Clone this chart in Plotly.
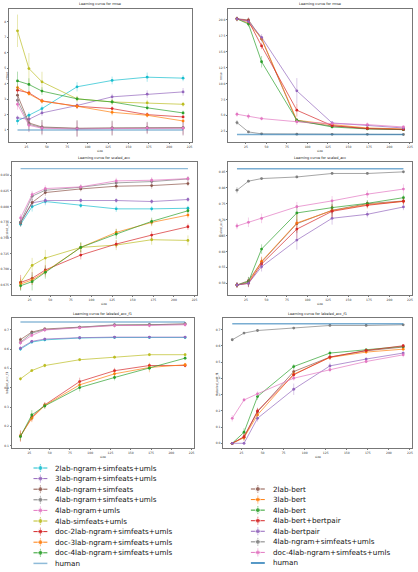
import plotly.graph_objects as go

# ---------------- data ----------------
X = [14, 28, 44, 87, 130, 173, 217]
XTICKS = [25, 50, 75, 100, 125, 150, 175, 200, 225]

LEFT_MODELS = ["2lab-ngram+simfeats+umls", "3lab-ngram+simfeats+umls", "4lab-ngram+simfeats",
               "4lab-ngram+simfeats+umls", "4lab-ngram+umls", "4lab-simfeats+umls",
               "doc-2lab-ngram+simfeats+umls", "doc-3lab-ngram+simfeats+umls",
               "doc-4lab-ngram+simfeats+umls"]
LEFT_COLORS = ["#17becf", "#9467bd", "#8c564b", "#7f7f7f", "#e377c2", "#bcbd22",
               "#d62728", "#ff7f0e", "#2ca02c"]
RIGHT_MODELS = ["2lab-bert", "3lab-bert", "4lab-bert", "4lab-bert+bertpair", "4lab-bertpair",
                "4lab-ngram+simfeats+umls", "doc-4lab-ngram+simfeats+umls"]
RIGHT_COLORS = ["#8c564b", "#ff7f0e", "#2ca02c", "#d62728", "#9467bd", "#7f7f7f", "#e377c2"]

TITLES = ["Learning curve for rmse", "Learning curve for rmse",
          "Learning curve for scaled_acc", "Learning curve for scaled_acc",
          "Learning curve for labeled_acc_f1", "Learning curve for labeled_acc_f1"]
YLABELS = ["rmse", "rmse", "scaled_acc", "scaled_acc", "labeled_acc_f1", "labeled_acc_f1"]
XLABEL = "size"

# top-left (left models)
TL_MEAN = [
    [1.58, 1.95, 2.38, 3.79, 4.20, 4.41, 4.35],
    [1.78, 1.69, 2.10, 2.58, 3.14, 3.31, 3.46],
    [3.25, 1.45, 1.19, 1.11, 1.13, 1.15, 1.15],
    [2.92, 1.37, 1.15, 1.09, 1.11, 1.13, 1.13],
    [2.66, 1.30, 1.11, 1.06, 1.09, 1.11, 1.11],
    [7.41, 4.97, 4.11, 3.01, 2.81, 2.75, 2.66],
    [3.57, 3.40, 2.88, 2.53, 2.38, 1.99, 1.84],
    [3.74, 3.35, 2.86, 2.53, 2.14, 1.95, 1.58],
    [4.17, 3.94, 3.51, 3.01, 2.81, 2.43, 2.10],
]
TL_ERR = [
    [0.25, 0.20, 0.20, 0.30, 0.25, 0.30, 0.20],
    [0.15, 0.15, 0.20, 0.20, 0.20, 0.25, 0.25],
    [0.35, 0.45, 0.45, 0.50, 0.45, 0.35, 0.45],
    [0.40, 0.50, 0.50, 0.55, 0.50, 0.40, 0.50],
    [0.35, 0.45, 0.40, 0.50, 0.40, 0.35, 0.45],
    [1.05, 1.00, 0.65, 0.20, 0.20, 0.20, 0.15],
    [0.20, 0.15, 0.15, 0.15, 0.15, 0.15, 0.10],
    [0.20, 0.15, 0.15, 0.15, 0.20, 0.15, 0.10],
    [0.60, 0.40, 0.25, 0.15, 0.15, 0.15, 0.15],
]
TL_HUMAN = 1.0

# top-right (right models)
TR_MEAN = [
    [20.15, 19.99, 17.00, 4.08, 3.34, 2.92, 2.76],
    [20.15, 19.50, 17.10, 4.24, 3.55, 3.02, 2.87],
    [20.15, 19.34, 13.42, 4.24, 3.18, 2.87, 2.76],
    [20.15, 19.84, 15.90, 5.81, 3.39, 2.92, 2.81],
    [20.15, 19.73, 17.26, 8.85, 3.81, 3.44, 3.02],
    [3.87, 2.40, 2.10, 2.05, 2.03, 2.02, 2.00],
    [5.18, 4.86, 4.50, 4.00, 3.71, 3.55, 3.18],
]
TR_ERR = [
    [0.40, 0.40, 0.40, 0.30, 0.20, 0.20, 0.20],
    [0.30, 0.40, 0.40, 0.30, 0.20, 0.20, 0.20],
    [0.30, 0.40, 0.90, 0.30, 0.20, 0.20, 0.20],
    [0.30, 0.40, 0.50, 1.00, 0.20, 0.20, 0.20],
    [0.30, 0.30, 0.50, 2.00, 0.30, 0.20, 0.20],
    [0.40, 0.10, 0.10, 0.10, 0.10, 0.10, 0.10],
    [0.40, 0.45, 0.30, 0.50, 0.20, 0.35, 0.20],
]
TR_HUMAN = 2.0

# middle-left
ML_MEAN = [
    [0.7717, 0.8000, 0.8080, 0.8016, 0.7963, 0.7963, 0.7973],
    [0.7750, 0.8059, 0.8096, 0.8096, 0.8096, 0.8080, 0.8112],
    [0.7739, 0.8064, 0.8223, 0.8281, 0.8324, 0.8334, 0.8366],
    [0.7750, 0.8165, 0.8260, 0.8308, 0.8377, 0.8398, 0.8440],
    [0.7819, 0.8191, 0.8287, 0.8313, 0.8409, 0.8419, 0.8445],
    [0.6790, 0.7062, 0.7179, 0.7349, 0.7386, 0.7471, 0.7460],
    [0.6790, 0.6856, 0.6989, 0.7227, 0.7402, 0.7545, 0.7678],
    [0.6765, 0.6830, 0.6962, 0.7349, 0.7588, 0.7747, 0.7864],
    [0.6737, 0.6803, 0.6951, 0.7349, 0.7561, 0.7763, 0.7933],
]
ML_ERR = [
    [0.004, 0.008, 0.006, 0.004, 0.005, 0.004, 0.004],
    [0.004, 0.006, 0.005, 0.004, 0.004, 0.004, 0.004],
    [0.006, 0.006, 0.005, 0.004, 0.005, 0.005, 0.004],
    [0.006, 0.006, 0.005, 0.004, 0.005, 0.005, 0.004],
    [0.006, 0.006, 0.005, 0.004, 0.005, 0.005, 0.004],
    [0.008, 0.012, 0.013, 0.008, 0.008, 0.008, 0.008],
    [0.012, 0.010, 0.008, 0.007, 0.006, 0.006, 0.005],
    [0.008, 0.008, 0.008, 0.007, 0.006, 0.006, 0.005],
    [0.008, 0.014, 0.010, 0.008, 0.008, 0.006, 0.005],
]
ML_HUMAN = 0.8605

# middle-right
MR_MEAN = [
    [0.4948, 0.5082, 0.5669, 0.6875, 0.7293, 0.7502, 0.7585],
    [0.4948, 0.5021, 0.5690, 0.6896, 0.7283, 0.7471, 0.7575],
    [0.4948, 0.5052, 0.6076, 0.7210, 0.7377, 0.7512, 0.7690],
    [0.4948, 0.5000, 0.5606, 0.6703, 0.7262, 0.7450, 0.7575],
    [0.4948, 0.5000, 0.5522, 0.6358, 0.7043, 0.7168, 0.7398],
    [0.7925, 0.8208, 0.8290, 0.8340, 0.8450, 0.8450, 0.8500],
    [0.6800, 0.6917, 0.7039, 0.7405, 0.7590, 0.7800, 0.7960],
]
MR_ERR = [
    [0.008, 0.012, 0.015, 0.030, 0.020, 0.010, 0.010],
    [0.008, 0.012, 0.015, 0.030, 0.020, 0.010, 0.010],
    [0.008, 0.015, 0.015, 0.025, 0.020, 0.010, 0.010],
    [0.008, 0.012, 0.015, 0.030, 0.020, 0.010, 0.010],
    [0.008, 0.012, 0.015, 0.030, 0.020, 0.010, 0.010],
    [0.010, 0.004, 0.004, 0.004, 0.004, 0.004, 0.004],
    [0.010, 0.015, 0.015, 0.015, 0.015, 0.012, 0.015],
]
MR_HUMAN = 0.860

# bottom-left
BL_MEAN = [
    [0.6000, 0.6363, 0.6478, 0.6574, 0.6600, 0.6600, 0.6600],
    [0.6050, 0.6400, 0.6520, 0.6590, 0.6620, 0.6620, 0.6620],
    [0.6490, 0.6880, 0.7040, 0.7140, 0.7230, 0.7260, 0.7300],
    [0.6350, 0.6830, 0.7000, 0.7120, 0.7260, 0.7260, 0.7300],
    [0.6320, 0.6710, 0.6990, 0.7100, 0.7220, 0.7220, 0.7260],
    [0.4460, 0.4890, 0.5150, 0.5450, 0.5580, 0.5710, 0.5710],
    [0.1500, 0.2470, 0.3110, 0.4320, 0.4880, 0.5150, 0.5150],
    [0.1500, 0.2420, 0.3080, 0.4150, 0.4720, 0.5050, 0.5190],
    [0.1470, 0.2590, 0.3060, 0.4010, 0.4530, 0.5010, 0.5530],
]
BL_ERR = [
    [0.010, 0.008, 0.008, 0.006, 0.006, 0.006, 0.006],
    [0.010, 0.008, 0.008, 0.006, 0.006, 0.006, 0.006],
    [0.012, 0.010, 0.008, 0.008, 0.010, 0.010, 0.010],
    [0.012, 0.010, 0.008, 0.008, 0.010, 0.010, 0.010],
    [0.012, 0.010, 0.008, 0.008, 0.010, 0.010, 0.010],
    [0.010, 0.008, 0.010, 0.008, 0.008, 0.008, 0.008],
    [0.030, 0.020, 0.015, 0.020, 0.015, 0.010, 0.010],
    [0.025, 0.020, 0.015, 0.020, 0.015, 0.025, 0.010],
    [0.020, 0.025, 0.015, 0.020, 0.015, 0.010, 0.010],
]
BL_HUMAN = 0.740

# bottom-right
BR_MEAN = [
    [0.000, 0.037, 0.195, 0.442, 0.531, 0.570, 0.593],
    [0.000, 0.035, 0.175, 0.426, 0.529, 0.562, 0.580],
    [0.000, 0.068, 0.288, 0.473, 0.556, 0.576, 0.597],
    [0.000, 0.041, 0.199, 0.422, 0.531, 0.572, 0.601],
    [0.000, 0.000, 0.154, 0.333, 0.477, 0.519, 0.556],
    [0.638, 0.679, 0.695, 0.710, 0.726, 0.726, 0.730],
    [0.154, 0.267, 0.305, 0.401, 0.453, 0.504, 0.545],
]
BR_ERR = [
    [0.005, 0.020, 0.020, 0.020, 0.015, 0.010, 0.010],
    [0.005, 0.020, 0.020, 0.020, 0.015, 0.010, 0.010],
    [0.005, 0.025, 0.020, 0.015, 0.015, 0.010, 0.010],
    [0.005, 0.020, 0.020, 0.020, 0.015, 0.010, 0.010],
    [0.005, 0.010, 0.020, 0.035, 0.020, 0.010, 0.010],
    [0.008, 0.006, 0.005, 0.005, 0.005, 0.005, 0.005],
    [0.020, 0.010, 0.015, 0.015, 0.015, 0.010, 0.015],
]
BR_HUMAN = 0.737

Y_TICKS = [
    [1, 2, 3, 4, 5, 6, 7, 8],
    [2.5, 5.0, 7.5, 10.0, 12.5, 15.0, 17.5, 20.0],
    [0.675, 0.700, 0.725, 0.750, 0.775, 0.800, 0.825, 0.850],
    [0.50, 0.55, 0.60, 0.65, 0.70, 0.75, 0.80, 0.85],
    [0.1, 0.2, 0.3, 0.4, 0.5, 0.6, 0.7],
    [0.0, 0.1, 0.2, 0.3, 0.4, 0.5, 0.6, 0.7],
]
Y_FORMATS = [".0f", ".1f", ".3f", ".2f", ".1f", ".1f"]
Y_RANGES = [[0.22, 8.82], [0.82, 21.7], [0.659, 0.871], [0.4634, 0.881], [0.088, 0.761], [-0.029, 0.772]]
X_RANGE = [3.5, 227.5]

# ---------------- layout geometry (pixels) ----------------
W, H = 418, 572
FRAMES = [  # left, right, top, bottom
    (7, 191, 9, 142), (228, 413, 9, 142),
    (10, 196, 162, 295), (228, 413, 162, 295),
    (10, 193, 318, 448), (223, 413, 318, 448),
]
YLABEL_X = [1.0, 216.0, 1.0, 216.0, 1.0, 213.0]
FONT = "DejaVu Sans"


def rgba(hexc, a):
    h = hexc.lstrip("#")
    return "rgba(%d,%d,%d,%.2f)" % (int(h[0:2], 16), int(h[2:4], 16), int(h[4:6], 16), a)


fig = go.Figure()

panels = [
    (TL_MEAN, TL_ERR, TL_HUMAN, LEFT_COLORS, LEFT_MODELS, rgba("#1f77b4", 0.5)),
    (TR_MEAN, TR_ERR, TR_HUMAN, RIGHT_COLORS, RIGHT_MODELS, rgba("#1f77b4", 0.6)),
    (ML_MEAN, ML_ERR, ML_HUMAN, LEFT_COLORS, LEFT_MODELS, rgba("#1f77b4", 0.5)),
    (MR_MEAN, MR_ERR, MR_HUMAN, RIGHT_COLORS, RIGHT_MODELS, rgba("#1f77b4", 0.6)),
    (BL_MEAN, BL_ERR, BL_HUMAN, LEFT_COLORS, LEFT_MODELS, rgba("#1f77b4", 0.5)),
    (BR_MEAN, BR_ERR, BR_HUMAN, RIGHT_COLORS, RIGHT_MODELS, rgba("#1f77b4", 0.6)),
]

annotations = []
for k, (means, errs, human, colors, names, hcol) in enumerate(panels):
    ax = "" if k == 0 else str(k + 1)
    for m, e, c, n in zip(means, errs, colors, names):
        fig.add_trace(go.Scatter(
            x=X, y=m, name=n, mode="lines+markers", showlegend=False,
            line=dict(color=c, width=0.7), marker=dict(size=2.8, color=c),
            error_y=dict(type="data", array=e, color=rgba(c, 0.5), thickness=0.7, width=0),
            xaxis="x" + ax, yaxis="y" + ax))
    fig.add_trace(go.Scatter(
        x=[X[0], X[-1]], y=[human, human], name="human", mode="lines", showlegend=False,
        line=dict(color=hcol, width=1.4), xaxis="x" + ax, yaxis="y" + ax))

    l, r, t, b = FRAMES[k]
    axis_common = dict(showline=True, mirror=True, linecolor="#777", linewidth=0.6,
                       ticks="outside", ticklen=1.5, tickwidth=0.5, tickcolor="#777",
                       showgrid=False, zeroline=False,
                       tickfont=dict(size=3, family=FONT, color="#333"))
    fig.update_layout(**{
        "xaxis" + ax: dict(domain=[l / W, r / W], range=X_RANGE, tickvals=XTICKS,
                           anchor="y" + ax, **axis_common),
        "yaxis" + ax: dict(domain=[1 - b / H, 1 - t / H], range=Y_RANGES[k], tickvals=Y_TICKS[k],
                           tickformat=Y_FORMATS[k], anchor="x" + ax, **axis_common),
    })
    annotations.append(dict(text=TITLES[k], xref="x%s domain" % ax, yref="y%s domain" % ax,
                            x=0.5, y=1, yanchor="bottom", yshift=0.5, showarrow=False,
                            font=dict(size=3.5, family=FONT, color="#222")))
    annotations.append(dict(text=XLABEL, xref="x%s domain" % ax, yref="y%s domain" % ax,
                            x=0.5, y=0, yanchor="top", yshift=-5, showarrow=False,
                            font=dict(size=3, family=FONT, color="#333")))
    annotations.append(dict(text=YLABELS[k], xref="paper", yref="y%s domain" % ax,
                            x=YLABEL_X[k] / W, y=0.5, xanchor="left", textangle=-90,
                            showarrow=False, font=dict(size=3, family=FONT, color="#333")))

# ---------------- manual legend (hidden axis in pixel units) ----------------
LEG_TOP = 455
fig.update_layout(
    xaxis7=dict(domain=[0, 1], range=[0, W], visible=False, anchor="y7", fixedrange=True),
    yaxis7=dict(domain=[0, (H - LEG_TOP) / H], range=[H, LEG_TOP], visible=False, anchor="x7",
                fixedrange=True),
)

legend_cols = [
    (LEFT_MODELS, LEFT_COLORS, rgba("#1f77b4", 0.5), 31.7, 468.0, 10.6),
    (RIGHT_MODELS, RIGHT_COLORS, "#1f77b4", 250.7, 489.0, 10.57),
]
for names, colors, hcol, x0, y0, dy in legend_cols:
    for i, (n, c) in enumerate(zip(names, colors)):
        yy = y0 + i * dy
        fig.add_trace(go.Scatter(
            x=[x0, x0 + 7, x0 + 14], y=[yy, yy, yy], mode="lines+markers", showlegend=False,
            line=dict(color=c, width=1), marker=dict(size=[0, 5, 0], color=c),
            error_y=dict(type="data", array=[0, 4, 0], color=rgba(c, 0.6), thickness=1, width=0),
            hoverinfo="skip", xaxis="x7", yaxis="y7"))
        annotations.append(dict(text=n, xref="x7", yref="y7", x=x0 + 20, y=yy, xanchor="left",
                                yanchor="middle", showarrow=False,
                                font=dict(size=7.2, family=FONT, color="#111")))
    yy = y0 + len(names) * dy
    fig.add_trace(go.Scatter(
        x=[x0, x0 + 14], y=[yy, yy], mode="lines", showlegend=False,
        line=dict(color=hcol, width=1.5), hoverinfo="skip", xaxis="x7", yaxis="y7"))
    annotations.append(dict(text="human", xref="x7", yref="y7", x=x0 + 20, y=yy, xanchor="left",
                            yanchor="middle", showarrow=False,
                            font=dict(size=7.2, family=FONT, color="#111")))

fig.update_layout(
    width=W, height=H, margin=dict(l=0, r=0, t=0, b=0),
    paper_bgcolor="white", plot_bgcolor="white",
    annotations=annotations, showlegend=False,
    font=dict(family=FONT),
)

fig.write_html("out.html")
